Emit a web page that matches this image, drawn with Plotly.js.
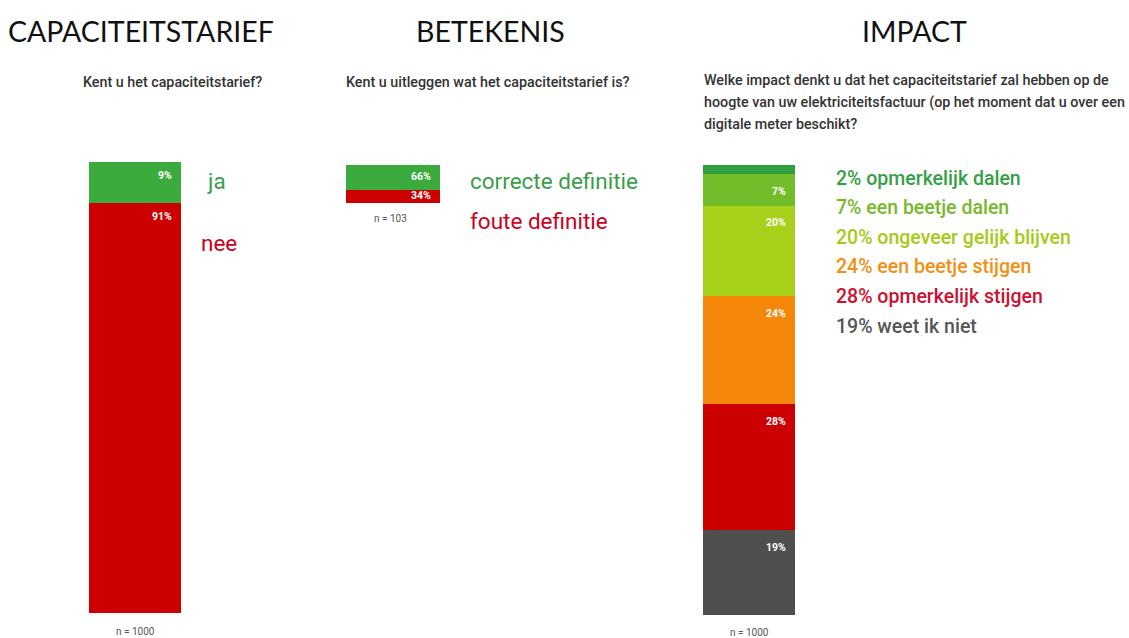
<!DOCTYPE html>
<html>
<head>
<meta charset="utf-8">
<script src="https://cdn.plot.ly/plotly-3.0.1.min.js"></script>
<style>html,body{margin:0;padding:0;background:#fff;}#chart{width:1129px;height:638px;}</style>
</head>
<body>
<div id="chart"></div>
<script>
// ---- data ----
const panelTitles = ["CAPACITEITSTARIEF", "BETEKENIS", "IMPACT"];
const questions1 = ["Kent u het capaciteitstarief?"];
const questions2 = ["Kent u uitleggen wat het capaciteitstarief is?"];
const questions3 = [
  "Welke impact denkt u dat het capaciteitstarief zal hebben op de",
  "hoogte van uw elektriciteitsfactuur (op het moment dat u over een",
  "digitale meter beschikt?"
];
const kentCategories = ["ja", "nee"];
const kentValues = [9, 91];
const defCategories = ["correcte definitie", "foute definitie"];
const defValues = [66, 34];
const impactCategories = ["opmerkelijk dalen", "een beetje dalen", "ongeveer gelijk blijven", "een beetje stijgen", "opmerkelijk stijgen", "weet ik niet"];
const impactValues = [2, 7, 20, 24, 28, 19];
const sampleSizes = ["n = 1000", "n = 103", "n = 1000"];

// ---- styling ----
const W = 1129, H = 638;
const px = x => x / W;
const py = y => 1 - y / H;
const GREEN = "#3aab3c", RED = "#cc0000";
const kentColors = [GREEN, RED];
const kentTextColors = ["#3a9d4a", "#cc0022"];
const defColors = [GREEN, RED];
const defTextColors = ["#3a9d4a", "#cc0022"];
const impactColors = ["#2e9e3e", "#74bd2a", "#a8d11c", "#f5870a", "#cc0000", "#4f4f4f"];
const impactTextColors = ["#35a045", "#78b82c", "#a4cb16", "#f29015", "#cc1030", "#555555"];
const FONT = "Roboto, 'Noto Sans', sans-serif";

const traces = [];
const annotations = [];

// mode "top": label near top of segment; "mid": centered in segment
function addPanel(cats, vals, colors, xa, ya, mode, yshift) {
  let cum = 0;
  cats.forEach((c, i) => {
    traces.push({
      type: "bar", x: [0], y: [vals[i]], width: 1, name: c,
      marker: {color: colors[i], line: {width: 0}},
      xaxis: xa, yaxis: ya, hoverinfo: "skip", showlegend: false, cliponaxis: false
    });
    if (vals[i] >= 5) {
      annotations.push({
        xref: xa, yref: ya, x: 0.5,
        y: mode === "mid" ? cum + vals[i] / 2 : cum,
        xanchor: "right", yanchor: mode === "mid" ? "middle" : "top",
        xshift: -7, yshift: yshift,
        text: "<b>" + vals[i] + "%</b>", showarrow: false,
        font: {family: FONT, size: 10.5, color: "#ffffff"}
      });
    }
    cum += vals[i];
  });
}
addPanel(kentCategories, kentValues, kentColors, "x", "y", "top", -5);
addPanel(defCategories, defValues, defColors, "x2", "y2", "mid", 1);
addPanel(impactCategories, impactValues, impactColors, "x3", "y3", "top", -9);

// titles
const titleX = [141, 490, 914];
panelTitles.forEach((t, i) => annotations.push({
  xref: "paper", yref: "paper", x: px(titleX[i]), y: py(31), xanchor: "center", yanchor: "middle",
  text: t, showarrow: false, font: {family: "Lato, 'Open Sans', sans-serif", size: 28.5, color: "#111"}
}));
// questions
const QFONT = {family: FONT, size: 14.3, color: "#333", weight: 500};
annotations.push({xref: "paper", yref: "paper", x: px(172), y: py(82), xanchor: "center", yanchor: "middle",
  text: questions1[0], showarrow: false, font: QFONT});
annotations.push({xref: "paper", yref: "paper", x: px(487), y: py(82), xanchor: "center", yanchor: "middle",
  text: questions2[0], showarrow: false, font: QFONT});
questions3.forEach((q, i) => annotations.push({xref: "paper", yref: "paper", x: px(702), y: py(80 + 22 * i),
  xanchor: "left", yanchor: "middle", text: q, showarrow: false, font: QFONT}));

// category labels
const kentLabelX = [205, 199];
const kentLabelY = [181, 243];
kentCategories.forEach((c, i) => annotations.push({xref: "paper", yref: "paper", x: px(kentLabelX[i]), y: py(kentLabelY[i]),
  xanchor: "left", yanchor: "middle", text: c, showarrow: false,
  font: {family: FONT, size: 22.5, color: kentTextColors[i]}}));
const defLabelY = [181, 221];
defCategories.forEach((c, i) => annotations.push({xref: "paper", yref: "paper", x: px(468), y: py(defLabelY[i]),
  xanchor: "left", yanchor: "middle", text: c, showarrow: false,
  font: {family: FONT, size: 22.5, color: defTextColors[i]}}));
impactCategories.forEach((c, i) => annotations.push({xref: "paper", yref: "paper", x: px(834), y: py(178 + 29.6 * i),
  xanchor: "left", yanchor: "middle", text: impactValues[i] + "% " + c, showarrow: false,
  font: {family: FONT, size: 19.5, color: impactTextColors[i], weight: 500}}));

// sample sizes
const nPos = [[135, 631], [390, 218], [749, 632]];
sampleSizes.forEach((s, i) => annotations.push({xref: "paper", yref: "paper", x: px(nPos[i][0]), y: py(nPos[i][1]),
  xanchor: "center", yanchor: "middle", text: s, showarrow: false,
  font: {family: FONT, size: 10, color: "#555"}}));

const hidden = {visible: false, fixedrange: true};
const layout = {
  width: W, height: H, margin: {l: 0, r: 0, t: 0, b: 0},
  paper_bgcolor: "#fff", plot_bgcolor: "rgba(0,0,0,0)",
  barmode: "stack", bargap: 0, showlegend: false,
  xaxis:  Object.assign({}, hidden, {range: [-0.5, 0.5], domain: [px(89), px(181)], anchor: "y"}),
  yaxis:  Object.assign({}, hidden, {range: [100, 0], domain: [py(613), py(162)], anchor: "x"}),
  xaxis2: Object.assign({}, hidden, {range: [-0.5, 0.5], domain: [px(346), px(440)], anchor: "y2"}),
  yaxis2: Object.assign({}, hidden, {range: [100, 0], domain: [py(203), py(165)], anchor: "x2"}),
  xaxis3: Object.assign({}, hidden, {range: [-0.5, 0.5], domain: [px(703), px(795)], anchor: "y3"}),
  yaxis3: Object.assign({}, hidden, {range: [100, 0], domain: [py(615), py(165)], anchor: "x3"}),
  annotations: annotations
};
Plotly.newPlot("chart", traces, layout, {staticPlot: true, displayModeBar: false});
</script>
</body>
</html>
